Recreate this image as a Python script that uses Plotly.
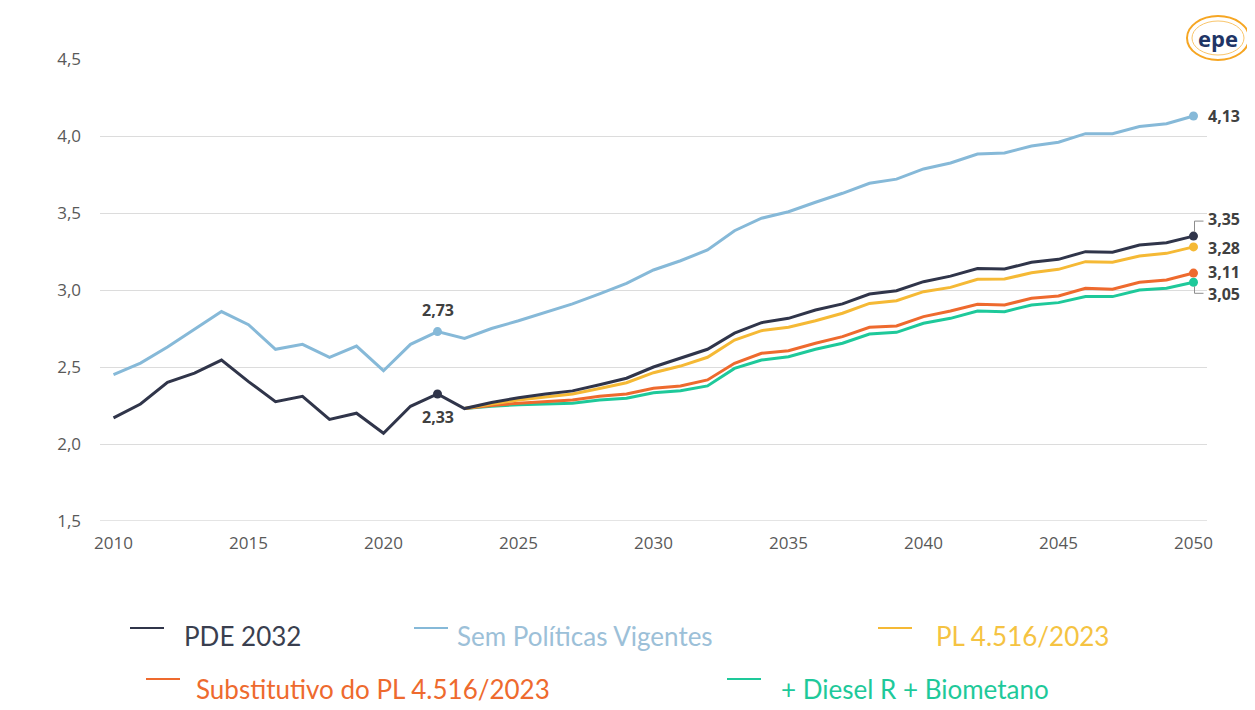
import plotly.graph_objects as go

years_hist = list(range(2010, 2024))
years_proj = list(range(2023, 2051))
years_all = list(range(2010, 2051))

pde_2032 = [2.17, 2.26, 2.40, 2.46, 2.545, 2.405, 2.275, 2.31, 2.16, 2.20, 2.07, 2.245, 2.325, 2.23,
            2.27, 2.30, 2.325, 2.345, 2.385, 2.427, 2.50, 2.555, 2.615, 2.72, 2.788, 2.816, 2.87, 2.91,
            2.974, 2.995, 3.054, 3.09, 3.14, 3.136, 3.18, 3.199, 3.249, 3.245, 3.292, 3.307, 3.35]
sem_politicas = [2.45, 2.525, 2.63, 2.745, 2.86, 2.775, 2.615, 2.647, 2.563, 2.636, 2.476, 2.647, 2.73, 2.686,
                 2.75, 2.80, 2.855, 2.91, 2.975, 3.043, 3.13, 3.19, 3.26, 3.385, 3.466, 3.508, 3.57, 3.628,
                 3.693, 3.72, 3.786, 3.825, 3.883, 3.89, 3.935, 3.96, 4.015, 4.015, 4.062, 4.08, 4.13]
pl_4516 = [2.23, 2.26, 2.285, 2.305, 2.325, 2.36, 2.398, 2.463, 2.506, 2.563, 2.675, 2.736, 2.758, 2.80,
           2.849, 2.913, 2.93, 2.989, 3.017, 3.069, 3.071, 3.112, 3.134, 3.184, 3.18, 3.221, 3.238, 3.28]
substitutivo = [2.23, 2.25, 2.265, 2.275, 2.286, 2.31, 2.325, 2.362, 2.377, 2.416, 2.524, 2.589, 2.606, 2.654,
                2.697, 2.758, 2.766, 2.827, 2.864, 2.907, 2.903, 2.946, 2.961, 3.011, 3.005, 3.05, 3.065, 3.11]
diesel_bio = [2.23, 2.245, 2.255, 2.26, 2.264, 2.285, 2.297, 2.333, 2.346, 2.377, 2.491, 2.545, 2.567, 2.615,
              2.654, 2.714, 2.725, 2.784, 2.816, 2.864, 2.859, 2.903, 2.918, 2.957, 2.957, 3.0, 3.011, 3.05]

colors = {"PDE 2032": "#30354a", "Sem Políticas Vigentes": "#86b9d8", "PL 4.516/2023": "#f5b935",
          "Substitutivo do PL 4.516/2023": "#ee6a2e", "+ Diesel R + Biometano": "#1ec99a"}
legend_text_colors = {"PDE 2032": "#3a3f4f", "Sem Políticas Vigentes": "#9cc0d8", "PL 4.516/2023": "#f5c342",
                      "Substitutivo do PL 4.516/2023": "#ee6a2e", "+ Diesel R + Biometano": "#1ec99a"}

y_ticks = [1.5, 2.0, 2.5, 3.0, 3.5, 4.0, 4.5]
y_ticktext = ["1,5", "2,0", "2,5", "3,0", "3,5", "4,0", "4,5"]
x_ticks = [2010, 2015, 2020, 2025, 2030, 2035, 2040, 2045, 2050]

def fmt(v):
    return f"{v:.2f}".replace(".", ",")

fig = go.Figure()

data = [
    ("Sem Políticas Vigentes", years_all, sem_politicas),
    ("+ Diesel R + Biometano", years_proj, diesel_bio),
    ("Substitutivo do PL 4.516/2023", years_proj, substitutivo),
    ("PL 4.516/2023", years_proj, pl_4516),
    ("PDE 2032", years_all, pde_2032),
]
for name, xs, ys in data:
    c = colors[name]
    fig.add_trace(go.Scatter(x=xs, y=ys, mode="lines", name=name,
                             line=dict(color=c, width=3), showlegend=False))
    fig.add_trace(go.Scatter(x=[xs[-1]], y=[ys[-1]], mode="markers",
                             marker=dict(color=c, size=9), showlegend=False))

i22 = years_all.index(2022)
for name, ys in [("Sem Políticas Vigentes", sem_politicas), ("PDE 2032", pde_2032)]:
    fig.add_trace(go.Scatter(x=[2022], y=[ys[i22]], mode="markers",
                             marker=dict(color=colors[name], size=9), showlegend=False))

lab_font = dict(family="Open Sans, sans-serif", size=16, color="#404040")
ann = []
ann.append(dict(x=2022, y=sem_politicas[i22], text=f"<b>{fmt(sem_politicas[i22])}</b>", showarrow=False,
                yshift=22, font=lab_font))
ann.append(dict(x=2022, y=pde_2032[i22], text=f"<b>{fmt(pde_2032[i22])}</b>", showarrow=False,
                yshift=-23, font=lab_font))
end_labels = [
    (sem_politicas[-1], 0),
    (pde_2032[-1], 17),
    (pl_4516[-1], -1),
    (substitutivo[-1], 1),
    (diesel_bio[-1], -12),
]
for v, ys in end_labels:
    ann.append(dict(x=2050, y=v, text=f"<b>{fmt(v)}</b>", showarrow=False,
                    xanchor="left", xshift=12, yshift=ys, font=lab_font))

shapes = []
# bracket leader lines (anchored at the data points, pixel offsets)
shapes.append(dict(type="path", xref="x", yref="y", xsizemode="pixel", ysizemode="pixel",
                   xanchor=2050, yanchor=pde_2032[-1], path="M 1,4 L 1,15 L 10,15",
                   line=dict(color="#8c8c8c", width=1)))
shapes.append(dict(type="path", xref="x", yref="y", xsizemode="pixel", ysizemode="pixel",
                   xanchor=2050, yanchor=diesel_bio[-1], path="M 1,-4 L 1,-11 L 10,-11",
                   line=dict(color="#8c8c8c", width=1)))

# custom legend (paper coordinates relative to plot area)
def px_x(px):
    return (px - 100) / 1107
def px_y(py):
    return (521 - py) / 462

legend_items = [
    ("PDE 2032", 130, 182, 628, 636),
    ("Sem Políticas Vigentes", 414, 455, 628, 636),
    ("PL 4.516/2023", 878, 934, 628, 636),
    ("Substitutivo do PL 4.516/2023", 146, 194, 679, 689),
    ("+ Diesel R + Biometano", 727, 779, 679, 689),
]
for name, dx, tx, dy, ty in legend_items:
    shapes.append(dict(type="line", xref="paper", yref="paper", x0=px_x(dx), x1=px_x(dx + 34),
                       y0=px_y(dy), y1=px_y(dy), line=dict(color=colors[name], width=2)))
    ann.append(dict(xref="paper", yref="paper", x=px_x(tx), y=px_y(ty), text=name, showarrow=False,
                    xanchor="left", yanchor="middle",
                    font=dict(family="Lato, sans-serif", size=26, color=legend_text_colors[name])))

# logo
shapes.append(dict(type="circle", xref="paper", yref="paper", x0=px_x(1187), x1=px_x(1249),
                   y0=px_y(60), y1=px_y(16), line=dict(color="#f6a623", width=2)))
shapes.append(dict(type="circle", xref="paper", yref="paper", x0=px_x(1192), x1=px_x(1244),
                   y0=px_y(55), y1=px_y(21), line=dict(color="#f9c56b", width=1)))
ann.append(dict(xref="paper", yref="paper", x=px_x(1218), y=px_y(38), text="<b>epe</b>", showarrow=False,
                xanchor="center", yanchor="middle",
                font=dict(family="Open Sans, sans-serif", size=22, color="#1f3566")))

# the page body adds an 8px margin, so the figure is 8px smaller and margins offset
fig.update_layout(
    width=1247, height=702,
    margin=dict(l=92, r=48, t=51, b=189),
    paper_bgcolor="#ffffff", plot_bgcolor="#ffffff",
    showlegend=False,
    annotations=ann, shapes=shapes,
    xaxis=dict(range=[2009.5, 2050.5], tickvals=x_ticks, showgrid=False, zeroline=False,
               showline=False, ticks="", ticklabelstandoff=10,
               tickfont=dict(family="Open Sans, sans-serif", size=17, color="#595959")),
    yaxis=dict(range=[1.5, 4.5], tickvals=y_ticks, ticktext=y_ticktext, showgrid=True,
               gridcolor="#dcdcdc", gridwidth=1, zeroline=False, showline=False, ticks="",
               ticklabelstandoff=18,
               tickfont=dict(family="Open Sans, sans-serif", size=17, color="#595959")),
)
fig.add_hline(y=1.5, line=dict(color="#c8c8c8", width=1))

fig.write_html("out.html")
